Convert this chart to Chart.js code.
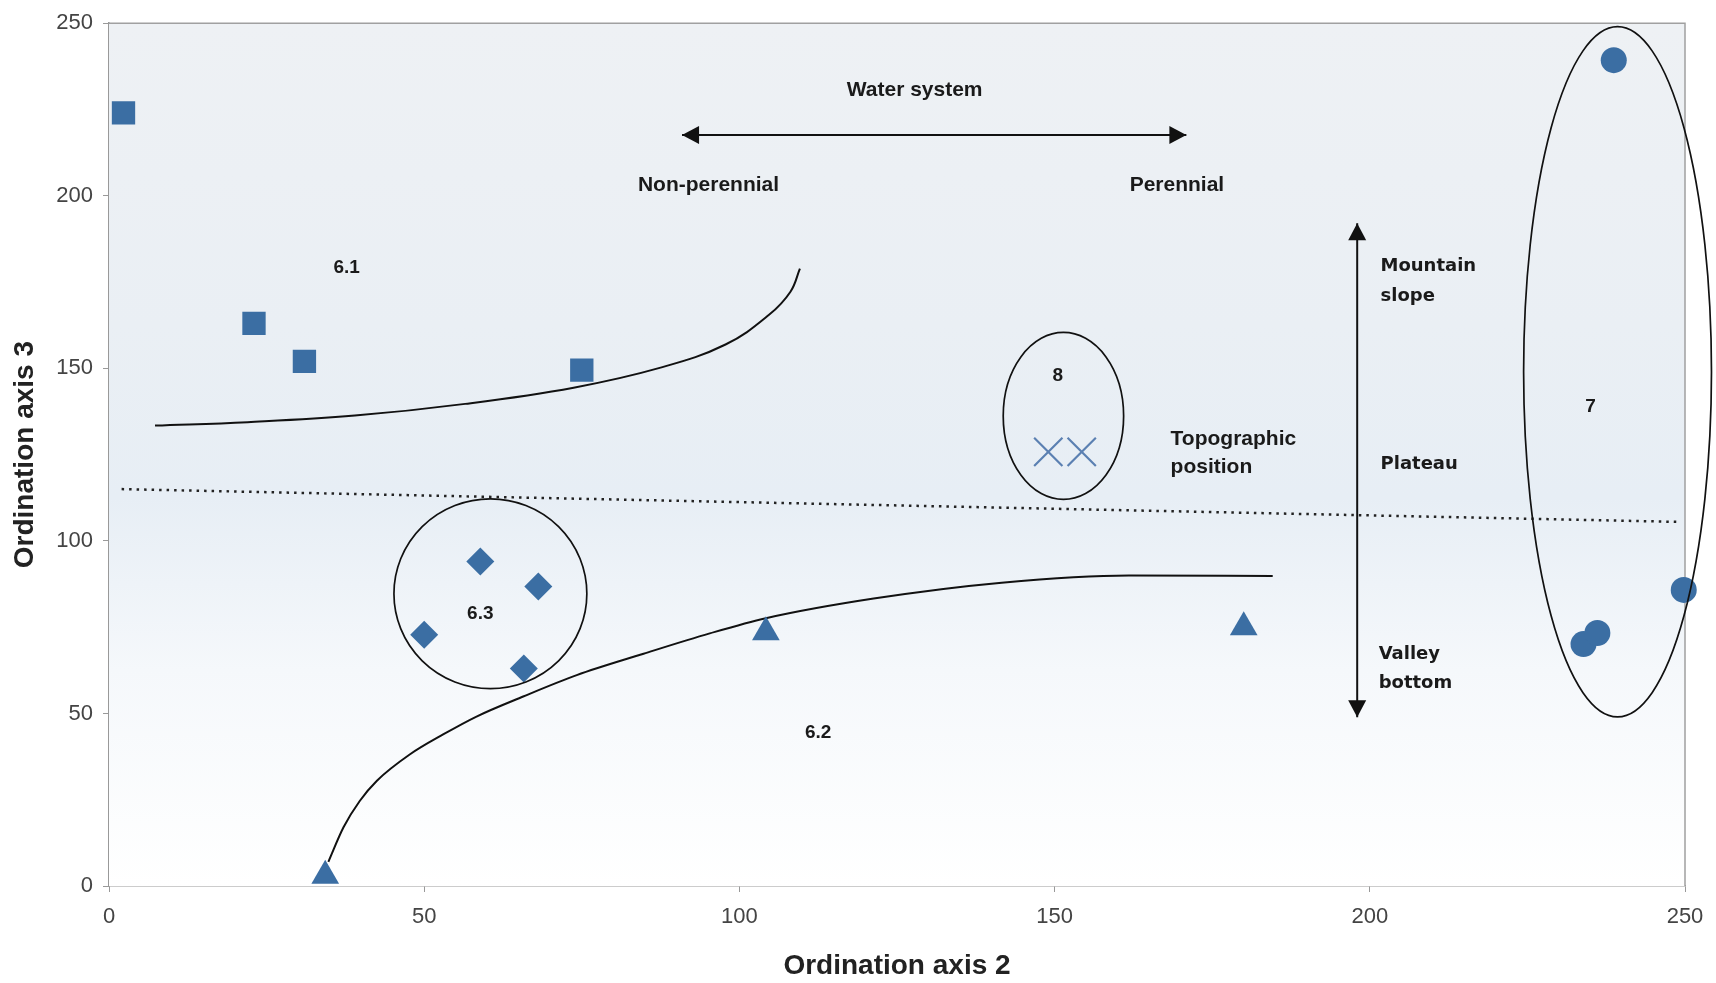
<!DOCTYPE html>
<html>
<head>
<meta charset="utf-8">
<script src="https://cdn.jsdelivr.net/npm/chart.js@4/dist/chart.umd.min.js"></script>
<style>
  html, body { margin: 0; background: #fff; }
  #wrap { width: 1716px; height: 983px; position: relative; }
</style>
</head>
<body>
<div id="wrap"><canvas id="ordination"></canvas></div>
<script>
// axis ticks (both axes run 0..250)
const TICKS = [0, 50, 100, 150, 200, 250];

// group 6.1 - squares
const g61X = [2.3, 23, 31, 75];
const g61Y = [224, 163, 152, 149.5];
// group 6.3 - diamonds
const g63X = [58.9, 68.1, 50, 65.8];
const g63Y = [94, 86.8, 72.8, 63];
// group 6.2 - triangles
const g62X = [34.3, 104.2, 180];
const g62Y = [3, 73.5, 75];
// group 8 - crosses
const g8X = [149, 154.3];
const g8Y = [125.8, 125.8];
// group 7 - circles
const g7X = [238.7, 249.8, 233.9, 236.1];
const g7Y = [239.3, 85.8, 70.1, 73.3];

// boundary curves
const upperX = [7.3, 22, 39, 56.5, 73.7, 87.5, 97.8, 104.7, 108.1, 109.6];
const upperY = [133.4, 134.4, 136.3, 139.7, 144.4, 150.2, 156.9, 165.5, 172.2, 178.9];
const lowerX = [34.8, 37.2, 39.8, 42.5, 47.7, 53, 58.3, 65.7, 74.2, 84.8, 95.3, 104.2, 121.3, 141.6, 161.8, 184.6];
const lowerY = [7, 17, 24.7, 30.5, 38.1, 43.9, 49.1, 54.9, 61.1, 67.3, 73.2, 77.6, 83.3, 87.9, 90, 89.8];
const dotX = [2, 249];
const dotY = [115, 105.5];

// group outlines: centre x, centre y, radius x, radius y (data units)
const ellipseCX = [60.5, 151.4, 239.3];
const ellipseCY = [84.7, 136.2, 149];
const ellipseRX = [15.3, 9.55, 14.9];
const ellipseRY = [27.5, 24.2, 100];

// double arrows: x1, y1, x2, y2
const arrowX1 = [90.9, 198];
const arrowY1 = [217.6, 192];
const arrowX2 = [170.9, 198];
const arrowY2 = [217.6, 48.9];

// annotation text
const noteText = ['Water system', 'Non-perennial', 'Perennial', '6.1', '8', '7', '6.3', '6.2'];
const noteX = [127.8, 95.1, 169.4, 37.7, 150.5, 235, 58.9, 112.5];
const noteY = [230.5, 203, 203, 179, 147.8, 139, 79, 44.3];
const sideText = ['Topographic', 'position', 'Mountain', 'slope', 'Plateau', 'Valley', 'bottom'];
const sideX = [168.4, 168.4, 201.7, 201.7, 201.7, 201.4, 201.4];
const sideY = [129.6, 121.4, 179.6, 171, 122.3, 67, 58.8];

const BLUE = '#3b6ea3';
const pts = (xs, ys) => xs.map((x, i) => ({ x, y: ys[i] }));

const decor = {
  id: 'decor',
  beforeDatasetsDraw(chart) {
    const { ctx, chartArea: a } = chart;
    ctx.save();
    const g = ctx.createLinearGradient(0, a.top, 0, a.bottom);
    g.addColorStop(0, '#eef1f4');
    g.addColorStop(0.35, '#eaeff4');
    g.addColorStop(0.55, '#e7eef5');
    g.addColorStop(0.75, '#f5f8fb');
    g.addColorStop(1, '#ffffff');
    ctx.fillStyle = g;
    ctx.fillRect(a.left, a.top, a.width, a.height);
    // frame top + right
    ctx.strokeStyle = '#a0a0a0';
    ctx.lineWidth = 1.5;
    ctx.beginPath();
    ctx.moveTo(a.left, a.top);
    ctx.lineTo(a.right, a.top);
    ctx.lineTo(a.right, a.bottom);
    ctx.stroke();
    ctx.restore();
  },
  afterDatasetsDraw(chart) {
    const { ctx } = chart;
    const xs = chart.scales.x, ys = chart.scales.y;
    const px = (v) => xs.getPixelForValue(v);
    const py = (v) => ys.getPixelForValue(v);
    const pxLen = (v) => Math.abs(xs.getPixelForValue(v) - xs.getPixelForValue(0));
    const pyLen = (v) => Math.abs(ys.getPixelForValue(v) - ys.getPixelForValue(0));
    ctx.save();

    ctx.strokeStyle = '#111';
    ctx.lineWidth = 1.7;
    ellipseCX.forEach((cx, i) => {
      ctx.beginPath();
      ctx.ellipse(px(cx), py(ellipseCY[i]), pxLen(ellipseRX[i]), pyLen(ellipseRY[i]), 0, 0, Math.PI * 2);
      ctx.stroke();
    });

    const head = (x, y, ang) => {
      const L = 17, W = 9;
      ctx.beginPath();
      ctx.moveTo(x, y);
      ctx.lineTo(x - L * Math.cos(ang) + W * Math.sin(ang), y - L * Math.sin(ang) - W * Math.cos(ang));
      ctx.lineTo(x - L * Math.cos(ang) - W * Math.sin(ang), y - L * Math.sin(ang) + W * Math.cos(ang));
      ctx.closePath();
      ctx.fill();
    };
    ctx.fillStyle = '#111';
    ctx.lineWidth = 2;
    arrowX1.forEach((x1, i) => {
      const ax = px(x1), ay = py(arrowY1[i]), bx = px(arrowX2[i]), by = py(arrowY2[i]);
      const ang = Math.atan2(by - ay, bx - ax);
      ctx.beginPath();
      ctx.moveTo(ax, ay);
      ctx.lineTo(bx, by);
      ctx.stroke();
      head(bx, by, ang);
      head(ax, ay, ang + Math.PI);
    });

    ctx.fillStyle = '#1a1a1a';
    ctx.textBaseline = 'middle';
    ctx.textAlign = 'center';
    noteText.forEach((t, i) => {
      const small = i >= 3;
      ctx.font = small ? 'bold 19px "Liberation Sans", Arial, sans-serif' : 'bold 21px "Liberation Sans", Arial, sans-serif';
      ctx.fillText(t, px(noteX[i]), py(noteY[i]));
    });
    ctx.textAlign = 'left';
    sideText.forEach((t, i) => {
      ctx.font = i < 2 ? 'bold 21px "Liberation Sans", Arial, sans-serif' : 'bold 18px "DejaVu Sans", Verdana, sans-serif';
      ctx.fillText(t, px(sideX[i]), py(sideY[i]));
    });
    ctx.restore();
  }
};

const tickFont = { family: '"Liberation Sans", Arial, sans-serif', size: 22 };
const titleFont = { family: '"Liberation Sans", Arial, sans-serif', size: 28, weight: 'bold' };

new Chart(document.getElementById('ordination'), {
  type: 'scatter',
  data: {
    datasets: [
      { data: pts(g61X, g61Y), pointStyle: 'rect', pointRadius: 16.5, backgroundColor: BLUE, borderColor: BLUE, borderWidth: 0 },
      { data: pts(g63X, g63Y), pointStyle: 'rectRot', pointRadius: 14, backgroundColor: BLUE, borderColor: BLUE, borderWidth: 0 },
      { data: pts(g62X, g62Y), pointStyle: 'triangle', pointRadius: 16, backgroundColor: BLUE, borderColor: BLUE, borderWidth: 0, clip: false },
      { data: pts(g8X, g8Y), pointStyle: 'crossRot', pointRadius: 20, borderColor: '#5b80b2', borderWidth: 2.2 },
      { data: pts(g7X, g7Y), pointStyle: 'circle', pointRadius: 13, backgroundColor: BLUE, borderColor: BLUE, borderWidth: 0, clip: false },
      { data: pts(upperX, upperY), showLine: true, pointRadius: 0, borderColor: '#111', borderWidth: 2, tension: 0.4 },
      { data: pts(lowerX, lowerY), showLine: true, pointRadius: 0, borderColor: '#111', borderWidth: 2, cubicInterpolationMode: 'monotone' },
      { data: pts(dotX, dotY), showLine: true, pointRadius: 0, borderColor: '#222', borderWidth: 2.5, borderDash: [2.5, 5] }
    ]
  },
  options: {
    responsive: true,
    maintainAspectRatio: false,
    animation: false,
    events: [],
    layout: { padding: { top: 16, right: 31, left: 0, bottom: 0 } },
    plugins: { legend: { display: false }, tooltip: { enabled: false } },
    scales: {
      x: {
        min: 0, max: 250,
        afterBuildTicks: (s) => { s.ticks = TICKS.map((v) => ({ value: v })); },
        afterFit: (s) => { s.height = 97; },
        ticks: { font: tickFont, color: '#444', padding: 12 },
        grid: { drawOnChartArea: false, tickLength: 6, color: '#999' },
        border: { color: '#999', width: 1.5 },
        title: { display: true, text: 'Ordination axis 2', font: titleFont, color: '#222', padding: { top: 1, bottom: 0 } }
      },
      y: {
        min: 0, max: 250,
        afterBuildTicks: (s) => { s.ticks = TICKS.map((v) => ({ value: v })); },
        afterFit: (s) => { s.width = 109; },
        ticks: { font: tickFont, color: '#444', padding: 10 },
        grid: { drawOnChartArea: false, tickLength: 6, color: '#999' },
        border: { color: '#999', width: 1.5 },
        title: { display: true, text: 'Ordination axis 3', font: titleFont, color: '#222', padding: { top: 8, bottom: 0 } }
      }
    }
  },
  plugins: [decor]
});
</script>
</body>
</html>
